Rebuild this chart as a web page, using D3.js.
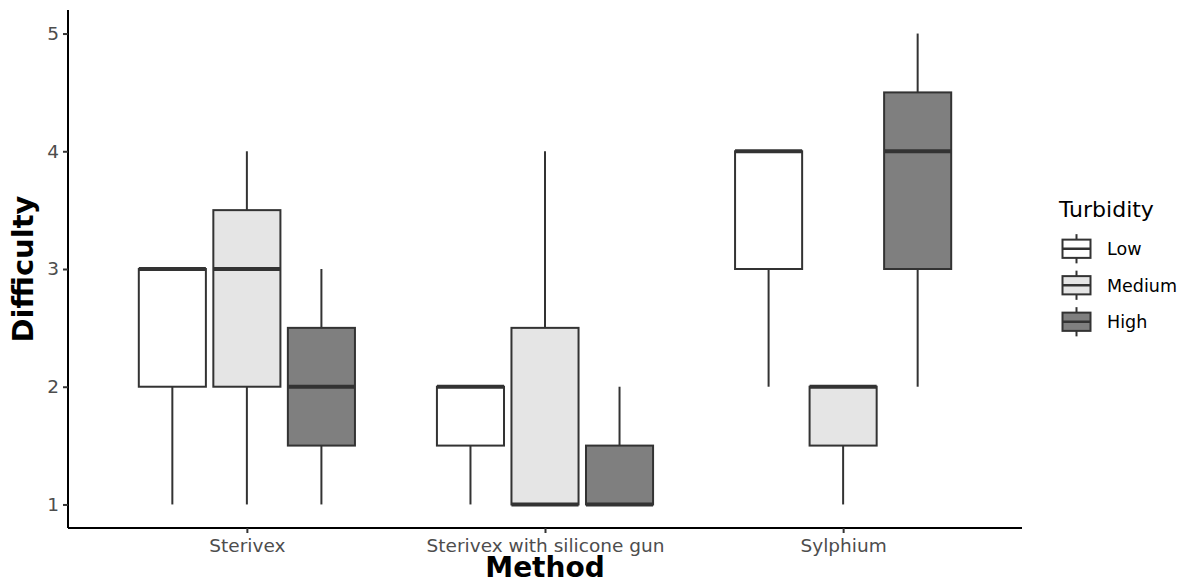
<!DOCTYPE html>
<html><head><meta charset="utf-8">
<script src="https://cdn.jsdelivr.net/npm/d3@7"></script>
<style>body{margin:0;background:#fff}svg{display:block}text{font-family:"DejaVu Sans",sans-serif}</style>
</head><body>
<svg id="chart" width="1183" height="584"></svg>
<script>
const methods = ["Sterivex", "Sterivex with silicone gun", "Sylphium"];
const turbidity = ["Low", "Medium", "High"];
const fills = ["#ffffff", "#e5e5e5", "#7f7f7f"];
const yTicks = [1, 2, 3, 4, 5];

const lowMin = [1, 1, 2], lowQ1 = [2, 1.5, 3], lowMedian = [3, 2, 4], lowQ3 = [3, 2, 4], lowMax = [3, 2, 4];
const mediumMin = [1, 1, 1], mediumQ1 = [2, 1, 1.5], mediumMedian = [3, 1, 2], mediumQ3 = [3.5, 2.5, 2], mediumMax = [4, 4, 2];
const highMin = [1, 1, 2], highQ1 = [1.5, 1, 3], highMedian = [2, 1, 4], highQ3 = [2.5, 1.5, 4.5], highMax = [3, 2, 5];

const series = [
  {min: lowMin, q1: lowQ1, med: lowMedian, q3: lowQ3, max: lowMax},
  {min: mediumMin, q1: mediumQ1, med: mediumMedian, q3: mediumQ3, max: mediumMax},
  {min: highMin, q1: highQ1, med: highMedian, q3: highQ3, max: highMax}
];
const boxes = [];
turbidity.forEach((t, ti) => methods.forEach((m, mi) => {
  const s = series[ti];
  boxes.push({method: m, turb: t, fill: fills[ti], min: s.min[mi], q1: s.q1[mi], med: s.med[mi], q3: s.q3[mi], max: s.max[mi]});
}));

const svg = d3.select("#chart");
const L = 68, R = 1022, T = 10, B = 528;
const x = d3.scalePoint().domain(methods).range([L, R]).padding(0.6);
const step = x.step();
const xi = d3.scaleBand().domain(turbidity).range([-0.375 * step, 0.375 * step]).paddingInner(0.1).paddingOuter(0.05);
const y = d3.scaleLinear().domain([0.8, 5.2]).range([B, T]);
const col = d3.scaleOrdinal().domain(turbidity).range(fills);

const stroke = "#333333";
const g = svg.append("g");
const bx = d => x(d.method) + xi(d.turb);
const cx = d => bx(d) + xi.bandwidth() / 2;

const bg = g.selectAll("g.box").data(boxes).join("g").attr("class", "box");
bg.append("line").attr("x1", cx).attr("x2", cx).attr("y1", d => y(d.q3)).attr("y2", d => y(d.max))
  .attr("stroke", stroke).attr("stroke-width", 2);
bg.append("line").attr("x1", cx).attr("x2", cx).attr("y1", d => y(d.q1)).attr("y2", d => y(d.min))
  .attr("stroke", stroke).attr("stroke-width", 2);
bg.append("rect").attr("x", bx).attr("width", xi.bandwidth())
  .attr("y", d => y(d.q3)).attr("height", d => y(d.q1) - y(d.q3))
  .attr("fill", d => col(d.turb)).attr("stroke", stroke).attr("stroke-width", 2);
bg.append("line").attr("x1", bx).attr("x2", d => bx(d) + xi.bandwidth())
  .attr("y1", d => y(d.med)).attr("y2", d => y(d.med))
  .attr("stroke", stroke).attr("stroke-width", 4);

// axes
const yAxis = svg.append("g").attr("transform", `translate(${L},0)`)
  .call(d3.axisLeft(y).tickValues(yTicks).tickSize(5).tickPadding(4).tickFormat(d3.format("d")));
yAxis.select(".domain").attr("d", `M0,${T}V${B}`).attr("stroke", "#000").attr("stroke-width", 2);
yAxis.selectAll(".tick line").attr("stroke", "#333").attr("stroke-width", 2);
yAxis.selectAll(".tick text").attr("fill", "#4d4d4d").style("font-size", "18.5px").style("font-family", "DejaVu Sans");

const xAxis = svg.append("g").attr("transform", `translate(0,${B})`)
  .call(d3.axisBottom(x).tickSize(5).tickPadding(6));
xAxis.select(".domain").attr("d", `M${L},0H${R}`).attr("stroke", "#000").attr("stroke-width", 2);
xAxis.selectAll(".tick line").attr("stroke", "#333").attr("stroke-width", 2);
xAxis.selectAll(".tick text").attr("fill", "#4d4d4d").style("font-size", "18.5px").style("font-family", "DejaVu Sans");

svg.append("text").attr("x", (L + R) / 2).attr("y", 577).attr("text-anchor", "middle")
  .style("font-size", "28px").style("font-weight", "bold").text("Method");
svg.append("text").attr("transform", `translate(33,${(T + B) / 2}) rotate(-90)`).attr("text-anchor", "middle")
  .style("font-size", "29px").style("font-weight", "bold").text("Difficulty");

// legend
const lg = svg.append("g");
lg.append("text").attr("x", 1059).attr("y", 217).style("font-size", "22px").attr("fill", "#000").text("Turbidity");
const keyH = 36.5, keyTop = 230.5;
const items = lg.selectAll("g.key").data(turbidity).join("g").attr("class", "key")
  .attr("transform", (d, i) => `translate(1058,${keyTop + i * keyH})`);
items.append("line").attr("x1", 18.5).attr("x2", 18.5).attr("y1", keyH * 0.1).attr("y2", keyH * 0.9)
  .attr("stroke", stroke).attr("stroke-width", 2);
items.append("rect").attr("x", 4.5).attr("width", 28).attr("y", keyH * 0.25).attr("height", keyH * 0.5)
  .attr("fill", d => col(d)).attr("stroke", stroke).attr("stroke-width", 2);
items.append("line").attr("x1", 4.5).attr("x2", 32.5).attr("y1", keyH * 0.5).attr("y2", keyH * 0.5)
  .attr("stroke", stroke).attr("stroke-width", 2.5);
items.append("text").attr("x", 49).attr("y", keyH * 0.5 + 6.5).style("font-size", "17.5px").attr("fill", "#000").text(d => d);
</script>
</body></html>
